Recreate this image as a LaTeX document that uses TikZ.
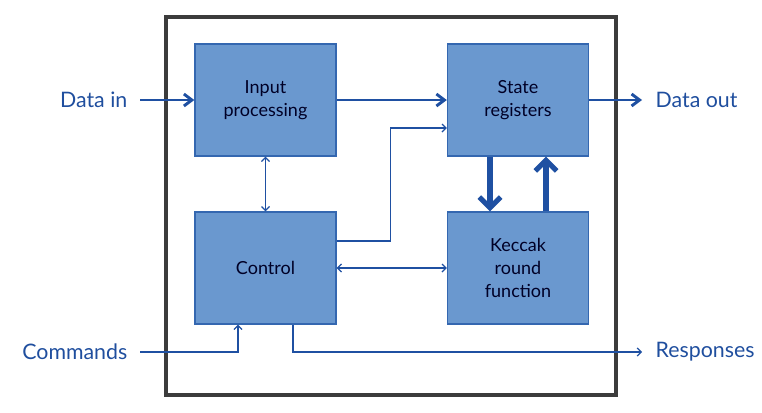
\documentclass[tikz,border=0pt]{standalone}
\usepackage{fontspec}
\setmainfont{Lato}
\usetikzlibrary{arrows.meta,calc}
\definecolor{boxfill}{HTML}{6A98CF}
\definecolor{boxline}{HTML}{3467B0}
\definecolor{wire}{HTML}{1F50A2}
\definecolor{labelblue}{HTML}{1F4E9E}
\definecolor{frame}{HTML}{3C3C3C}

\begin{document}
\begin{tikzpicture}[x=0.75pt,y=-0.75pt,
    block/.style={draw=boxline, line width=1pt, fill=boxfill, text=black!85!blue,
      minimum width=105.75pt, minimum height=84pt, align=center,
      font=\fontsize{13.5pt}{17pt}\selectfont},
    iolabel/.style={text=labelblue, font=\fontsize{16pt}{19pt}\selectfont},
    thinwire/.style={draw=wire, line width=0.9pt, -{Straight Barb[length=3pt,width=6pt]}},
    thinboth/.style={draw=wire, line width=0.9pt, {Straight Barb[length=3pt,width=6pt]}-{Straight Barb[length=3pt,width=6pt]}},
    buswire/.style={draw=wire, line width=2.2pt, -{Straight Barb[length=6pt,width=9pt]}},
    heavywire/.style={draw=wire, line width=3.8pt, -{Straight Barb[length=8pt,width=16pt]}}]
  \useasboundingbox (0,0) rectangle (762,412);
  % outer frame of the core
  \draw[frame, line width=2.6pt] (166,17) rectangle (616,395);
  % blocks
  \node[block] (inproc) at (265.5,100) {Input\\processing};
  \node[block] (state)  at (518,100)   {State\\registers};
  \node[block] (ctrl)   at (265.5,268) {Control};
  \node[block] (keccak) at (518,268)   {Keccak\\round\\function};
  % outside labels
  \node[iolabel, anchor=east] (datain)  at (132,100) {Data in};
  \node[iolabel, anchor=west] (dataout) at (651,100) {Data out};
  \node[iolabel, anchor=east] (cmds)    at (132,352) {Commands};
  \node[iolabel, anchor=west] (resp)    at (651,352) {Responses};
  % data path
  \draw[buswire] ($(datain.east)+(8,0)$) -- (inproc.west);
  \draw[buswire] (inproc.east) -- (state.west);
  \draw[buswire] (state.east) -- ($(dataout.west)+(-9,0)$);
  \draw[heavywire] ($(state.south)+(-28,0)$) -- ($(keccak.north)+(-28,0)$);
  \draw[heavywire] ($(keccak.north)+(28,0)$) -- ($(state.south)+(28,0)$);
  % control path
  \draw[thinboth] (inproc.south) -- (ctrl.north);
  \draw[thinboth] (ctrl.east) -- (keccak.west);
  \draw[thinwire] ($(ctrl.east)+(0,-27)$) -- ++(54,0) |- ($(state.west)+(0,28)$);
  \draw[thinwire] ($(cmds.east)+(8,0)$) -| ($(ctrl.south)+(-27.5,0)$);
  \draw[thinwire] ($(ctrl.south)+(27.5,0)$) |- ($(resp.west)+(-9,0)$);
\end{tikzpicture}
\end{document}
